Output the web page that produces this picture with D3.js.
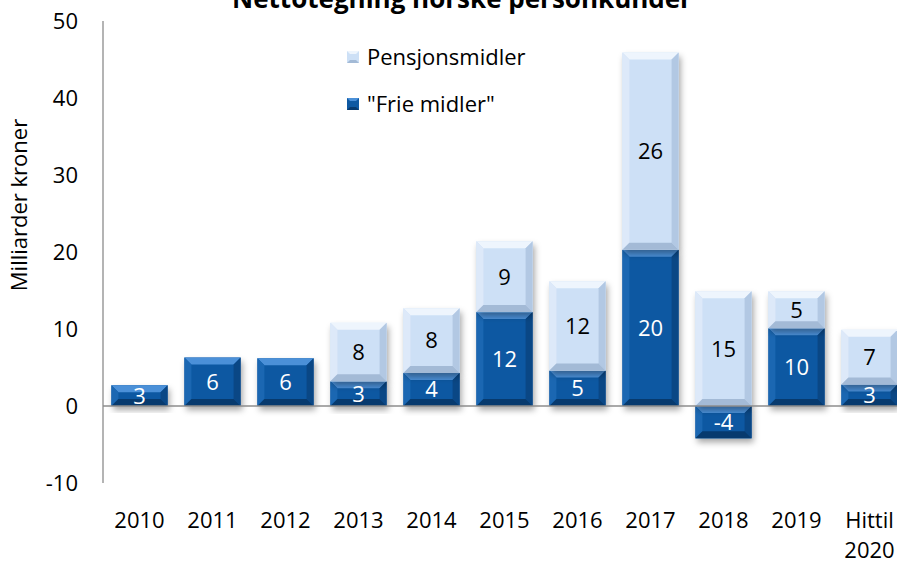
<!DOCTYPE html>
<html>
<head>
<meta charset="utf-8">
<script src="https://cdn.jsdelivr.net/npm/d3@7"></script>
<style>
  body { margin: 0; background: #fff; }
  svg { font-family: "Open Sans", Lato, sans-serif; }
</style>
</head>
<body>
<svg id="chart" width="897" height="563"></svg>
<script>
// Data (milliarder kroner)
var years = ["2010", "2011", "2012", "2013", "2014", "2015", "2016", "2017", "2018", "2019", "Hittil 2020"];
var frie = [2.7, 6.3, 6.2, 3.2, 4.3, 12.2, 4.6, 20.3, -4.2, 10.1, 2.8];
var pensjon = [0, 0, 0, 7.6, 8.4, 9.2, 11.6, 25.6, 14.9, 4.8, 7.1];
var yTicks = [-10, 0, 10, 20, 30, 40, 50];

var width = 897, height = 563;
var left = 103;

var svg = d3.select("#chart");

var x = d3.scaleBand()
    .domain(years)
    .range([left, left + 11 * 73])
    .paddingInner(0.23)
    .paddingOuter(0.115);

var y = d3.scaleLinear()
    .domain([-10, 50])
    .range([483, 21]);

// drop shadow
var defs = svg.append("defs");
var f = defs.append("filter").attr("id", "shadow")
    .attr("x", "-20%").attr("y", "-20%").attr("width", "150%").attr("height", "150%");
f.append("feDropShadow").attr("dx", 2).attr("dy", 4).attr("stdDeviation", 3)
    .attr("flood-color", "#000").attr("flood-opacity", 0.35);

// stack segments
var segs = [];
years.forEach(function(yr, i) {
    var f0 = frie[i];
    segs.push({year: yr, lo: Math.min(0, f0), hi: Math.max(0, f0), val: f0, kind: "frie"});
    if (pensjon[i] > 0) {
        var base = Math.max(0, f0);
        segs.push({year: yr, lo: base, hi: base + pensjon[i], val: pensjon[i], kind: "pens"});
    }
});

var pal = {
    frie: {face: "#0e59a2", top: "#4b90d8", left: "#1b67b2", right: "#0a4785", bottom: "#073a6e", text: "#fff"},
    pens: {face: "#cde0f6", top: "#eef5fd", left: "#dde9f9", right: "#b2c8e3", bottom: "#a3bad6", text: "#000"}
};

// axis line
svg.append("line")
    .attr("x1", left).attr("x2", left)
    .attr("y1", y(50)).attr("y2", y(-10))
    .attr("stroke", "#8c8c8c").attr("stroke-width", 1.3);

var bars = svg.append("g");
segs.forEach(function(d) {
    var x0 = x(d.year), x1 = x0 + x.bandwidth();
    var y0 = y(d.hi), y1 = y(d.lo);
    var b = Math.min(7, (y1 - y0) / 2);
    var c = pal[d.kind];
    var g = bars.append("g").attr("filter", "url(#shadow)");
    g.append("rect").attr("x", x0).attr("y", y0)
        .attr("width", x1 - x0).attr("height", y1 - y0).attr("fill", c.face);
    var poly = function(pts, col) {
        bars.append("polygon").attr("points", pts.map(function(p) { return p.join(","); }).join(" "))
            .attr("fill", col);
    };
    poly([[x0, y0], [x1, y0], [x1 - b, y0 + b], [x0 + b, y0 + b]], c.top);
    poly([[x0, y0], [x0 + b, y0 + b], [x0 + b, y1 - b], [x0, y1]], c.left);
    poly([[x1, y0], [x1, y1], [x1 - b, y1 - b], [x1 - b, y0 + b]], c.right);
    poly([[x0, y1], [x0 + b, y1 - b], [x1 - b, y1 - b], [x1, y1]], c.bottom);
});

// zero line
svg.append("line")
    .attr("x1", left).attr("x2", width)
    .attr("y1", y(0)).attr("y2", y(0))
    .attr("stroke", "#8c8c8c").attr("stroke-width", 1.3);

// value labels
svg.append("g").selectAll("text")
    .data(segs)
    .enter().append("text")
    .attr("x", function(d) { return x(d.year) + x.bandwidth() / 2; })
    .attr("y", function(d) { return (y(d.hi) + y(d.lo)) / 2; })
    .attr("dy", "0.36em")
    .attr("text-anchor", "middle")
    .attr("font-size", 22)
    .attr("fill", function(d) { return pal[d.kind].text; })
    .text(function(d) { return Math.round(d.val); });

// y tick labels
svg.append("g").selectAll("text")
    .data(yTicks)
    .enter().append("text")
    .attr("x", 78)
    .attr("y", function(d) { return y(d); })
    .attr("dy", "0.36em")
    .attr("text-anchor", "end")
    .attr("font-size", 22)
    .attr("fill", "#000")
    .text(function(d) { return d; });

// x labels, "Hittil 2020" wraps to two lines (one text per line)
var xLines = [];
years.forEach(function(d) {
    d.split(" ").forEach(function(w, i) { xLines.push({cat: d, word: w, line: i}); });
});
svg.append("g").selectAll("text")
    .data(xLines)
    .enter().append("text")
    .attr("x", function(d) { return x(d.cat) + x.bandwidth() / 2; })
    .attr("y", function(d) { return 528 + d.line * 30; })
    .attr("text-anchor", "middle")
    .attr("font-size", 22)
    .attr("fill", "#000")
    .text(function(d) { return d.word; });

// y axis title
svg.append("text")
    .attr("transform", "translate(27,205) rotate(-90)")
    .attr("text-anchor", "middle")
    .attr("font-size", 22)
    .text("Milliarder kroner");

// title (cut at the top edge as in the original)
svg.append("text")
    .attr("x", 462).attr("y", 8)
    .attr("text-anchor", "middle")
    .attr("font-size", 26)
    .attr("font-weight", "bold")
    .text("Nettotegning norske personkunder");

// legend
var legend = [
    {name: "Pensjonsmidler", kind: "pens", y: 57},
    {name: "\"Frie midler\"", kind: "frie", y: 104}
];
legend.forEach(function(l) {
    var c = pal[l.kind];
    var s = 12, lx = 347, ly = l.y - 6, b = 3;
    svg.append("rect").attr("x", lx).attr("y", ly).attr("width", s).attr("height", s).attr("fill", c.face);
    svg.append("polygon").attr("points", [[lx, ly], [lx + s, ly], [lx + s - b, ly + b], [lx + b, ly + b]].join(" ")).attr("fill", c.top);
    svg.append("polygon").attr("points", [[lx, ly + s], [lx + b, ly + s - b], [lx + s - b, ly + s - b], [lx + s, ly + s]].join(" ")).attr("fill", c.bottom);
    svg.append("text").attr("x", 367).attr("y", l.y).attr("dy", "0.36em")
        .attr("font-size", 22).text(l.name);
});
</script>
</body>
</html>
